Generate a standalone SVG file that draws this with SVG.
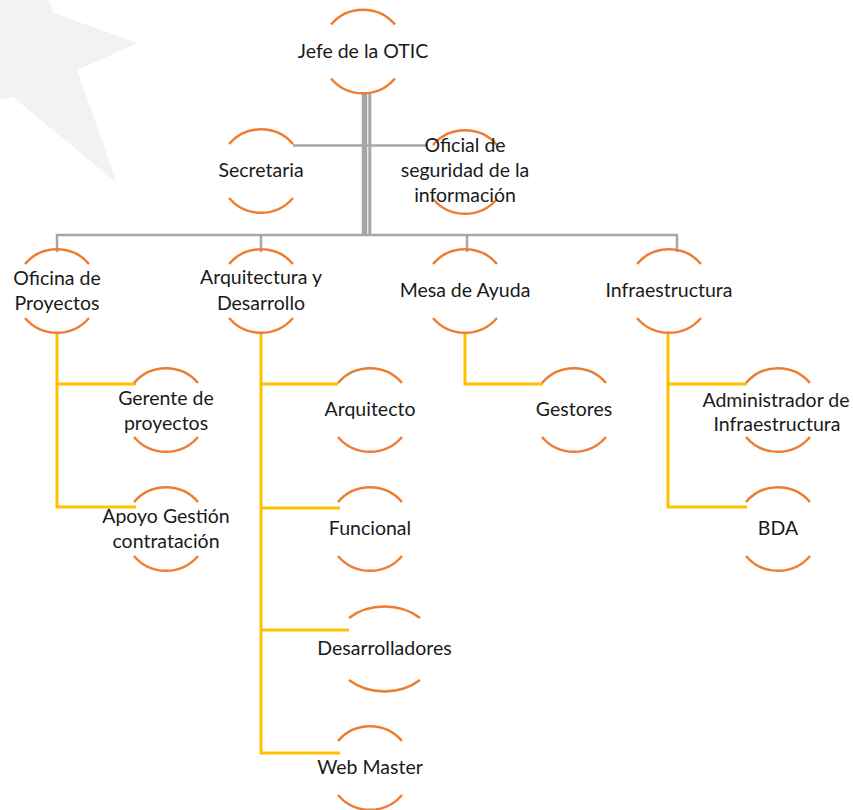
<svg xmlns="http://www.w3.org/2000/svg" width="853" height="810" viewBox="0 0 853 810">
  <style>
    .arc { fill: none; stroke: #ED7D31; stroke-width: 2.5; }
    .lbl { font-family: Lato, "Liberation Sans", sans-serif; font-size: 19.5px; fill: #1A1A1A; text-anchor: middle; }
    .gray { fill: none; stroke: #A6A6A6; stroke-width: 2.5; }
    .yel { fill: none; stroke: #FFC000; stroke-width: 3; }
  </style>
  <rect width="853" height="810" fill="#FFFFFF"/>
  <polygon points="0,0 49,0 53,13 138,43 77,70 117,183 13,97 0,100" fill="#F2F2F2"/>

  <g id="connectors">
    <line class="gray" x1="364.5" y1="93" x2="364.5" y2="236" style="stroke-width:5.5"/>
    <line class="gray" x1="369.8" y1="93" x2="369.8" y2="236" style="stroke-width:3"/>
    <line class="gray" x1="293" y1="145.5" x2="428" y2="145.5"/>
    <polyline class="gray" points="57,252 57,235 677,235 677,252"/>
    <line class="gray" x1="261" y1="235" x2="261" y2="252"/>
    <line class="gray" x1="467" y1="235" x2="467" y2="252"/>

    <polyline class="yel" points="57,333 57,507 136,507"/>
    <line class="yel" x1="57" y1="384" x2="136" y2="384"/>

    <polyline class="yel" points="261,333 261,753 340,753"/>
    <line class="yel" x1="261" y1="384" x2="338" y2="384"/>
    <line class="yel" x1="261" y1="508" x2="340" y2="508"/>
    <line class="yel" x1="261" y1="630" x2="349" y2="630"/>

    <polyline class="yel" points="465,333 465,384 543,384"/>

    <polyline class="yel" points="668,333 668,507 747,507"/>
    <line class="yel" x1="668" y1="384" x2="747" y2="384"/>
  </g>

  <g id="jefe">
    <path class="arc" d="M331,24.5 A42,42 0 0 1 395,24.5 M331,78.5 A42,42 0 0 0 395,78.5"/>
    <text class="lbl" x="363" y="58">Jefe de la OTIC</text>
  </g>
  <g id="secretaria">
    <path class="arc" d="M229,144 A42,42 0 0 1 293,144 M229,198 A42,42 0 0 0 293,198"/>
    <text class="lbl" x="261" y="177">Secretaria</text>
  </g>
  <g id="oficial">
    <path class="arc" d="M433,145 A42,42 0 0 1 497,145 M433,199 A42,42 0 0 0 497,199"/>
    <text class="lbl" x="465" y="152">Oficial de</text>
    <text class="lbl" x="465" y="177">seguridad de la</text>
    <text class="lbl" x="465" y="202">información</text>
  </g>

  <g id="oficina">
    <path class="arc" d="M25,264 A42,42 0 0 1 89,264 M25,318 A42,42 0 0 0 89,318"/>
    <text class="lbl" x="57" y="285">Oficina de</text>
    <text class="lbl" x="57" y="310">Proyectos</text>
  </g>
  <g id="arquitectura">
    <path class="arc" d="M229,264 A42,42 0 0 1 293,264 M229,318 A42,42 0 0 0 293,318"/>
    <text class="lbl" x="261" y="284">Arquitectura y</text>
    <text class="lbl" x="261" y="310">Desarrollo</text>
  </g>
  <g id="mesa">
    <path class="arc" d="M433,264 A42,42 0 0 1 497,264 M433,318 A42,42 0 0 0 497,318"/>
    <text class="lbl" x="465" y="297">Mesa de Ayuda</text>
  </g>
  <g id="infraestructura">
    <path class="arc" d="M637,264 A42,42 0 0 1 701,264 M637,318 A42,42 0 0 0 701,318"/>
    <text class="lbl" x="669" y="297">Infraestructura</text>
  </g>

  <g id="gerente">
    <path class="arc" d="M134,383 A42,42 0 0 1 198,383 M134,437 A42,42 0 0 0 198,437"/>
    <text class="lbl" x="166" y="405">Gerente de</text>
    <text class="lbl" x="166" y="430">proyectos</text>
  </g>
  <g id="apoyo">
    <path class="arc" d="M134,502 A42,42 0 0 1 198,502 M134,556 A42,42 0 0 0 198,556"/>
    <text class="lbl" x="166" y="523">Apoyo Gestión</text>
    <text class="lbl" x="166" y="548">contratación</text>
  </g>

  <g id="arquitecto">
    <path class="arc" d="M338,383 A42,42 0 0 1 402,383 M338,437 A42,42 0 0 0 402,437"/>
    <text class="lbl" x="370" y="416">Arquitecto</text>
  </g>
  <g id="funcional">
    <path class="arc" d="M338,502 A42,42 0 0 1 402,502 M338,556 A42,42 0 0 0 402,556"/>
    <text class="lbl" x="370" y="535">Funcional</text>
  </g>
  <g id="desarrolladores">
    <path class="arc" d="M349,618 A52,42.5 0 0 1 420,618 M349,680 A52,42.5 0 0 0 420,680"/>
    <text class="lbl" x="384.5" y="655">Desarrolladores</text>
  </g>
  <g id="webmaster">
    <path class="arc" d="M338,741 A42,42 0 0 1 402,741 M338,795 A42,42 0 0 0 402,795"/>
    <text class="lbl" x="370" y="774">Web Master</text>
  </g>

  <g id="gestores">
    <path class="arc" d="M542,383 A42,42 0 0 1 606,383 M542,437 A42,42 0 0 0 606,437"/>
    <text class="lbl" x="574" y="416">Gestores</text>
  </g>

  <g id="administrador">
    <path class="arc" d="M746,383 A42,42 0 0 1 810,383 M746,437 A42,42 0 0 0 810,437"/>
    <text class="lbl" x="776" y="407">Administrador de</text>
    <text class="lbl" x="777" y="431">Infraestructura</text>
  </g>
  <g id="bda">
    <path class="arc" d="M746,502 A42,42 0 0 1 810,502 M746,556 A42,42 0 0 0 810,556"/>
    <text class="lbl" x="778" y="535">BDA</text>
  </g>
</svg>
